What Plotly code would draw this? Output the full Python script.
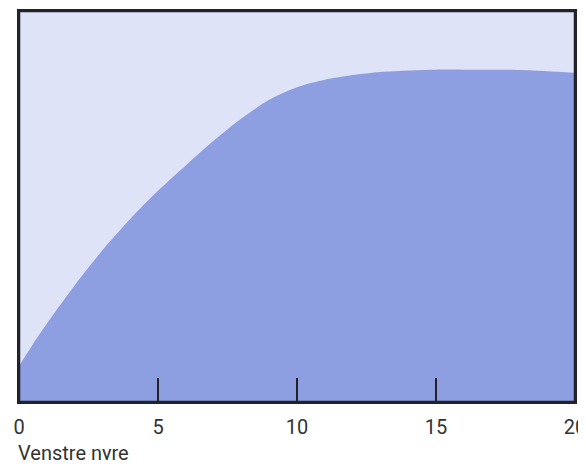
import plotly.graph_objects as go

# Data (x = time, y = relative value, arbitrary units)
x_vals = [0, 0.5, 1, 2, 3, 4, 5, 6, 7, 8, 9, 10, 11, 12, 13, 14, 15, 16, 17, 18, 19, 20]
y_vals = [9.2, 14.8, 20, 29.8, 38.8, 46.8, 54, 60.5, 66.8, 72.5, 77.3, 80.5, 82.4, 83.6,
          84.4, 84.8, 85, 85, 85, 84.9, 84.6, 84.2]
tick_vals = [0, 5, 10, 15, 20]
tick_text = ["0", "5", "10", "15", "20"]
axis_label = "Venstre nyre"

FONT = "Liberation Sans Narrow, Roboto, Liberation Sans, sans-serif"

# The page body has an 8px margin, so the figure is sized/offset to compensate
# (kept within the viewport so no scrollbars appear).
fig = go.Figure()
fig.add_trace(go.Scatter(
    x=x_vals, y=y_vals, mode="lines", fill="tozeroy",
    line=dict(width=0, shape="spline", smoothing=0.8, color="#8d9ee1"),
    fillcolor="#8d9ee1", hoverinfo="skip", showlegend=False,
))

fig.update_layout(
    width=570, height=452,
    margin=dict(l=11, r=3, t=3, b=58, autoexpand=False),
    paper_bgcolor="white",
    plot_bgcolor="#dfe3f8",
    font=dict(family=FONT, size=20, color="#333333"),
    showlegend=False,
)
fig.update_xaxes(
    range=[0, 20], tickvals=tick_vals, ticktext=tick_text,
    ticks="inside", ticklen=24, tickwidth=2, tickcolor="#222228",
    showline=True, linewidth=2, linecolor="#222228", mirror=True,
    showgrid=False, zeroline=False,
    ticklabelstandoff=6, ticklabeloverflow="allow", automargin=False,
    tickfont=dict(family=FONT, size=20, color="#333333"),
)
fig.update_yaxes(
    range=[0, 100], showticklabels=False, ticks="",
    showline=True, linewidth=2, linecolor="#222228", mirror=True,
    showgrid=False, zeroline=False, automargin=False,
)
# frame around the plotting area
fig.add_shape(
    type="rect", xref="paper", yref="paper", x0=0, x1=1, y0=0, y1=1,
    line=dict(color="#222228", width=2.5), fillcolor="rgba(0,0,0,0)", layer="above",
)
fig.add_annotation(
    text=axis_label, xref="paper", yref="paper", x=-0.006, y=-0.13,
    xanchor="left", yanchor="middle", showarrow=False,
    font=dict(family=FONT, size=20, color="#333333"),
)

fig.write_html("out.html")
